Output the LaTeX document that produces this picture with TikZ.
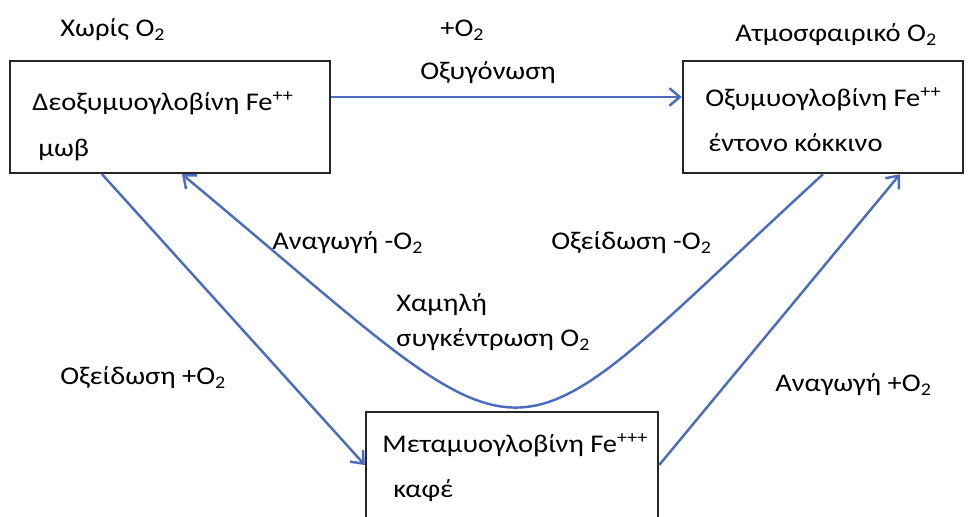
\documentclass[tikz,border=0pt]{standalone}
\usepackage{fontspec}
\setmainfont[FakeStretch=1.12]{Carlito}
\usetikzlibrary{arrows.meta}
\definecolor{arrowblue}{RGB}{76,108,190}

\begin{document}
\begin{tikzpicture}[x=0.02cm, y=-0.02cm, font=\fontsize{14.5}{17}\selectfont,
    box/.style={draw=black!85, line width=1.4pt, inner sep=0pt},
    lbl/.style={anchor=west, inner sep=0pt},
    conn/.style={draw=arrowblue, line width=1.4pt, -{Straight Barb[length=6pt,width=10pt]}}]

    \useasboundingbox (0,0) rectangle (974,517);
    \clip (0,0) rectangle (974,517);

    % boxes
    \node[box, minimum width=6.4cm, minimum height=2.24cm] (deo) at (170,117) {};
    \node[box, minimum width=5.6cm, minimum height=2.24cm] (oxy) at (823,117) {};
    \node[box, minimum width=5.84cm, minimum height=2.56cm] (met) at (512,476) {};

    % texts in boxes
    \node[lbl] (deo1) at (32,103) {Δεοξυμυογλοβίνη Fe\textsuperscript{++}};
    \node[lbl] (deo2) at (38,150) {μωβ};
    \node[lbl] (oxy1) at (705,99) {Οξυμυογλοβίνη Fe\textsuperscript{++}};
    \node[lbl] (oxy2) at (708,143) {έντονο κόκκινο};
    \node[lbl] (met1) at (382,445) {Μεταμυογλοβίνη Fe\textsuperscript{+++}};
    \node[lbl] (met2) at (393,491) {καφέ};

    % free labels
    \node[lbl] (l1) at (60,30) {Χωρίς O\textsubscript{2}};
    \node[lbl] (l2) at (440,30) {+O\textsubscript{2}};
    \node[lbl] (l3) at (420,73) {Οξυγόνωση};
    \node[lbl] (l4) at (735,35) {Ατμοσφαιρικό O\textsubscript{2}};
    \node[lbl] (l5) at (272,243) {Αναγωγή -O\textsubscript{2}};
    \node[lbl] (l6) at (551,243) {Οξείδωση -O\textsubscript{2}};
    \node[lbl] (l7) at (396,305) {Χαμηλή};
    \node[lbl] (l8) at (396,340) {συγκέντρωση O\textsubscript{2}};
    \node[lbl] (l9) at (60,378) {Οξείδωση +O\textsubscript{2}};
    \node[lbl] (l10) at (775,385) {Αναγωγή +O\textsubscript{2}};

    % connectors
    \draw[conn] ([yshift=0.4cm]deo.east) -- ([yshift=0.4cm]oxy.west);
    \draw[conn] ([xshift=-1.36cm]deo.south) -- ([yshift=0.22cm]met.west);
    \draw[conn] (oxy.south) .. controls (484,485) and (556,485) .. ([xshift=0.24cm]deo.south);
    \draw[conn] ([yshift=0.22cm]met.east) -- ([xshift=1.54cm]oxy.south);

\end{tikzpicture}
\end{document}
